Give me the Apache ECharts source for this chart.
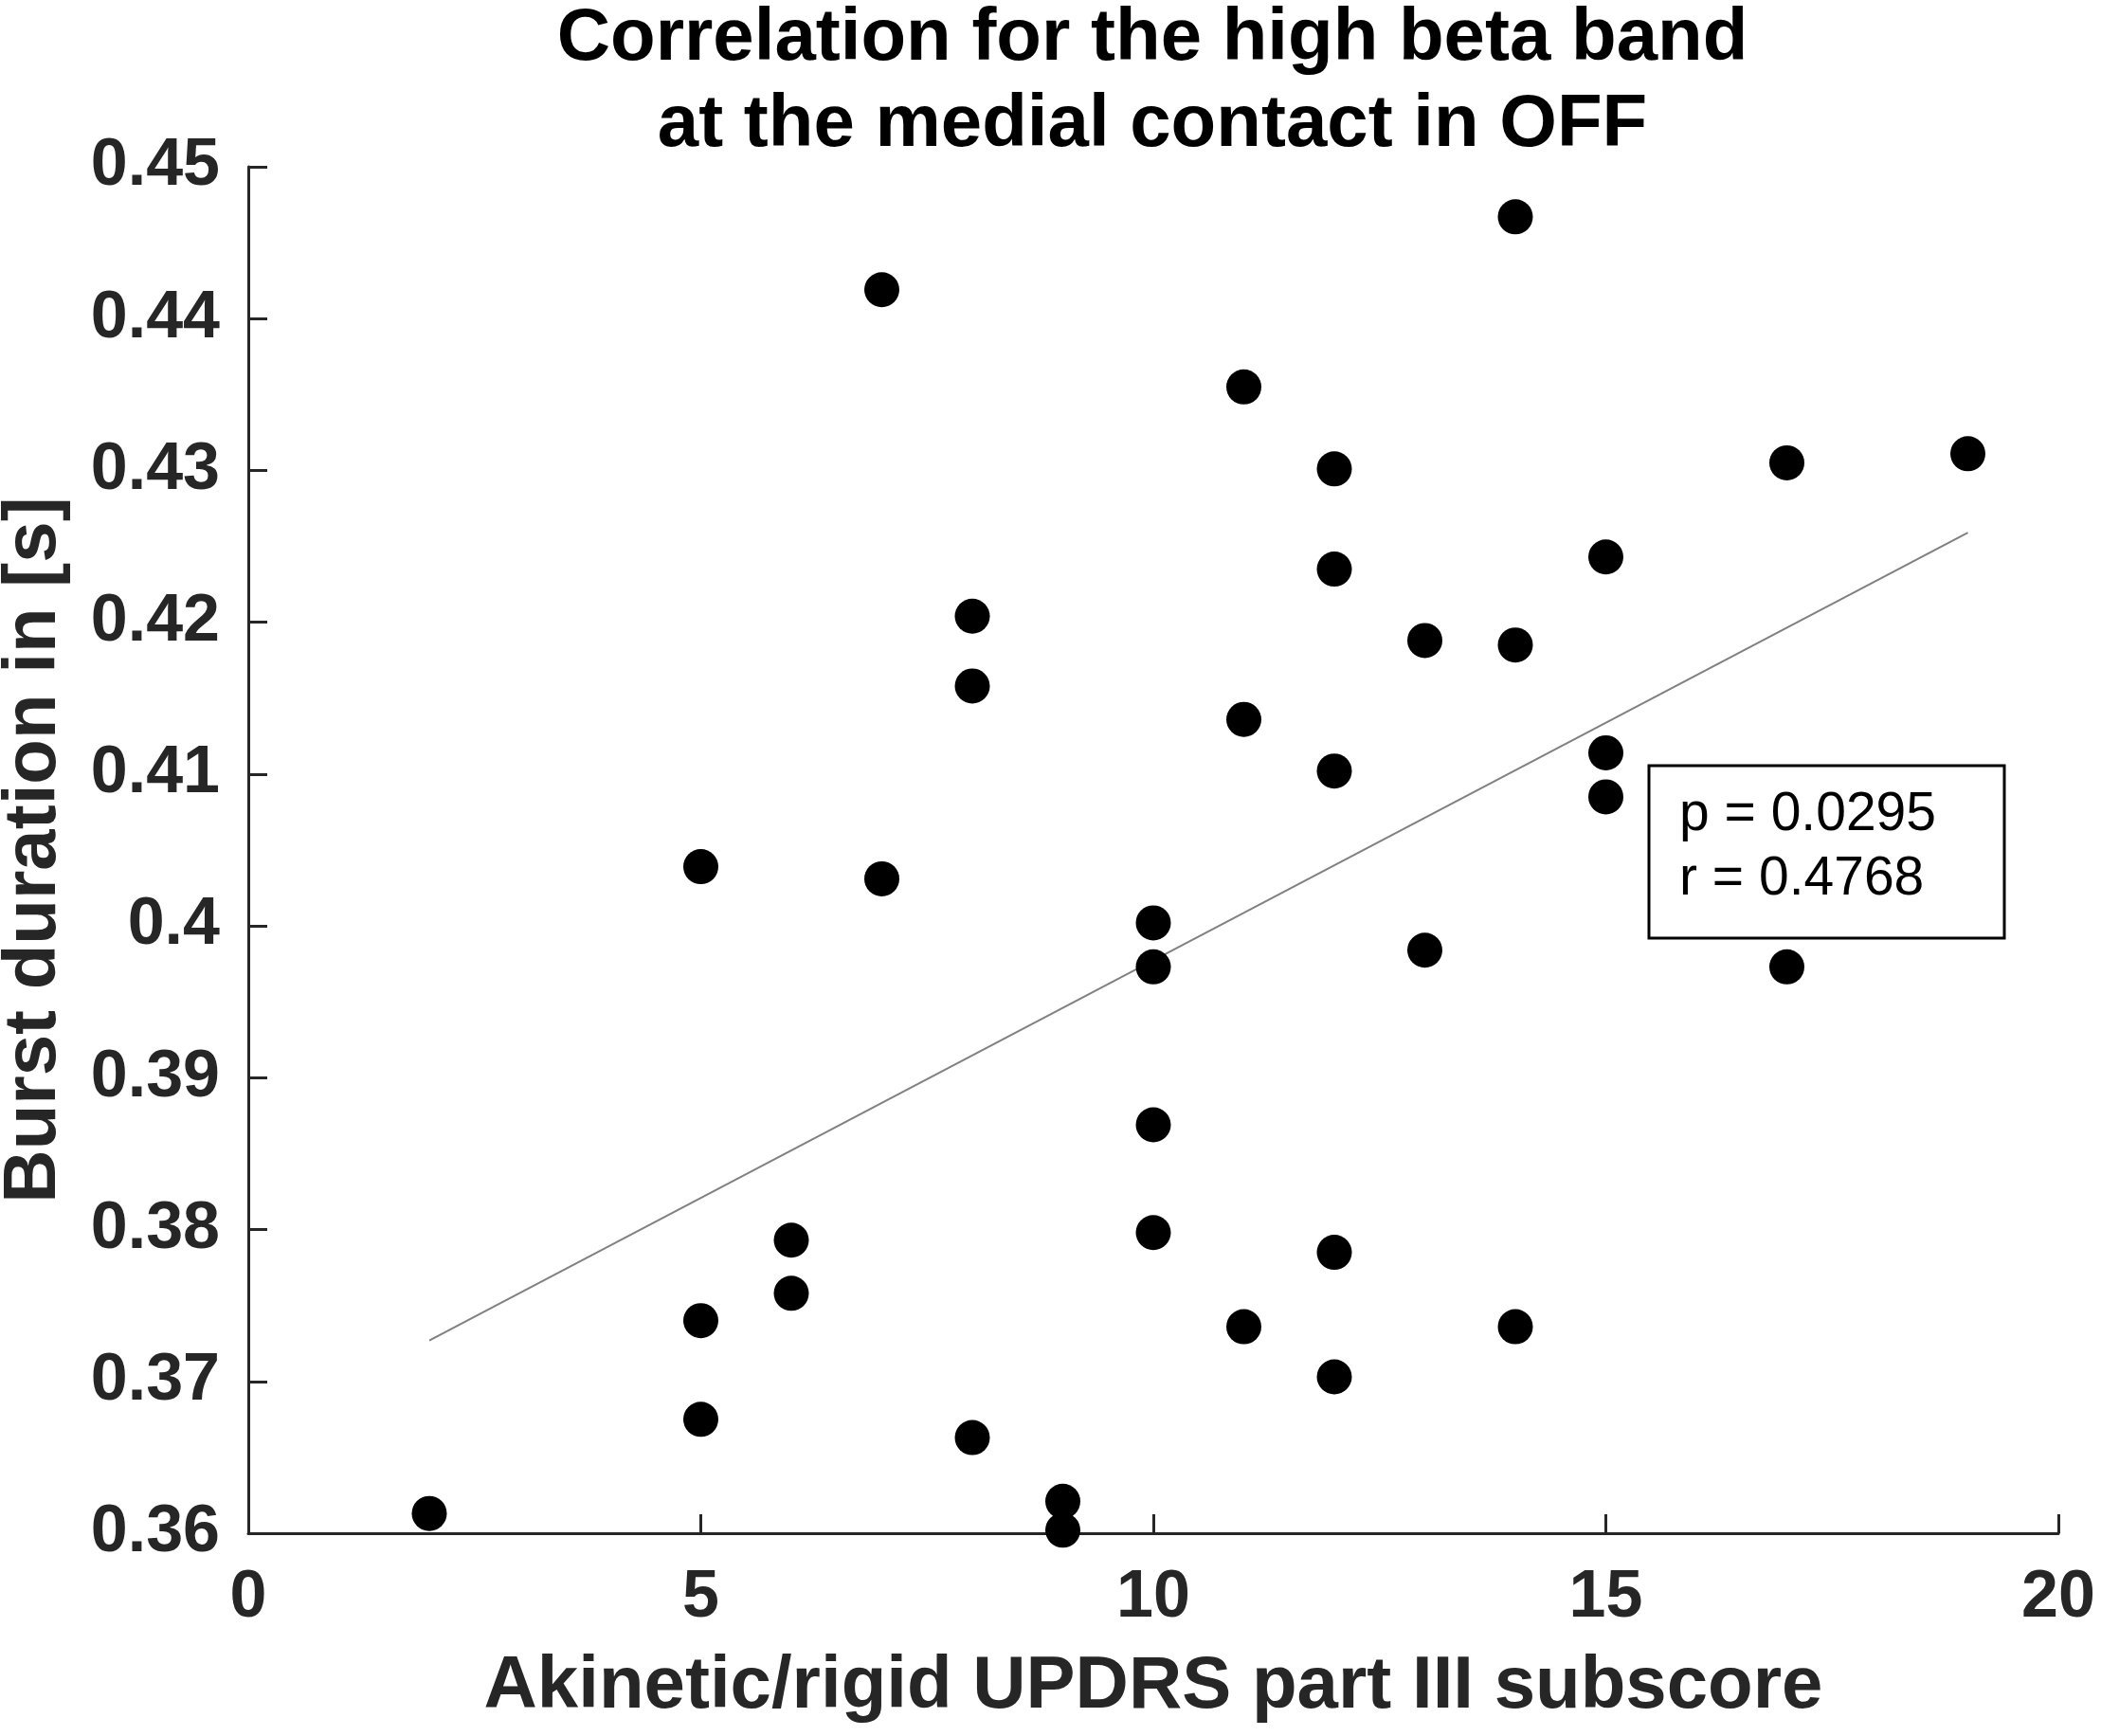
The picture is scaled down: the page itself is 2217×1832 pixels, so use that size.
<!DOCTYPE html>
<html>
<head>
    <meta charset="utf-8">
    <script src="https://cdnjs.cloudflare.com/ajax/libs/echarts/6.0.0/echarts.min.js"></script>
</head>
<body>
    <div id="main"></div>
    <style>
html,body { margin: 0; padding: 0; background: #fff; }
#main { width: 2217px; height: 1832px; }
    </style>
    <script type="text/javascript">
// subscore (x) and burst duration in s (y)
var subscore = [2, 5, 5, 5, 6, 6, 7, 7, 8, 8, 8, 9, 9,
                10, 10, 10, 10, 11, 11, 11, 12, 12, 12, 12, 12,
                13, 13, 14, 14, 14, 15, 15, 15, 17, 17, 19];
var burstDuration = [0.3613, 0.4039, 0.3740, 0.3675, 0.3793, 0.3758, 0.4419, 0.4031, 0.4204, 0.4158, 0.3663, 0.3621, 0.3602,
                     0.4002, 0.3973, 0.3869, 0.3798, 0.4355, 0.4136, 0.3736, 0.4301, 0.4235, 0.4102, 0.3785, 0.3703,
                     0.4188, 0.3984, 0.4467, 0.4185, 0.3736, 0.4243, 0.4114, 0.4085, 0.4305, 0.3973, 0.4311];
// fitted line end points
var fitX = [2, 19];
var fitY = [0.3727, 0.4259];
var yTickLabels = ['0.36', '0.37', '0.38', '0.39', '0.4', '0.41', '0.42', '0.43', '0.44', '0.45'];
var xTickLabels = ['0', '5', '10', '15', '20'];
var statsText = ['p = 0.0295', 'r = 0.4768'];

var font = '"Liberation Sans", Arial, Helvetica, sans-serif';
var axisColor = '#262626';

var points = subscore.map(function (x, i) { return [x, burstDuration[i]]; });
var fitLine = fitX.map(function (x, i) { return [x, fitY[i]]; });

var option = {
    backgroundColor: '#fff',
    animation: false,
    title: {
        text: 'Correlation for the high beta band\nat the medial contact in OFF',
        left: 1216,
        top: -4,
        textAlign: 'center',
        padding: 0,
        textStyle: {
            fontFamily: font,
            fontWeight: 'bold',
            fontSize: 78,
            lineHeight: 91,
            color: '#000'
        }
    },
    grid: { left: 262, right: 45, top: 176, bottom: 214, outerBoundsMode: 'none' },
    xAxis: {
        type: 'value',
        min: 0, max: 20, interval: 5,
        name: 'Akinetic/rigid UPDRS part III subscore',
        nameLocation: 'middle',
        nameGap: 162,
        nameTextStyle: {
            fontFamily: font, fontWeight: 'bold', fontSize: 78,
            color: axisColor, verticalAlign: 'middle', lineHeight: 78
        },
        axisLine: { lineStyle: { color: axisColor, width: 3 } },
        axisTick: { inside: true, length: 20, lineStyle: { color: axisColor, width: 3 } },
        axisLabel: {
            margin: 34,
            fontFamily: font, fontWeight: 'bold', fontSize: 70, lineHeight: 70, color: axisColor,
            formatter: function (v) { return xTickLabels[Math.round(v / 5)]; }
        },
        splitLine: { show: false }
    },
    yAxis: {
        type: 'value',
        min: 0.36, max: 0.45, interval: 0.01,
        name: 'Burst duration in [s]',
        nameLocation: 'middle',
        nameGap: 226,
        nameTextStyle: {
            fontFamily: font, fontWeight: 'bold', fontSize: 78,
            color: axisColor, verticalAlign: 'middle', lineHeight: 78
        },
        axisLine: { show: true, lineStyle: { color: axisColor, width: 3 } },
        axisTick: { show: true, inside: true, length: 20, lineStyle: { color: axisColor, width: 3 } },
        axisLabel: {
            margin: 30,
            fontFamily: font, fontWeight: 'bold', fontSize: 70, color: axisColor,
            formatter: function (v) { return yTickLabels[Math.round((v - 0.36) / 0.01)]; }
        },
        splitLine: { show: false }
    },
    series: [
        {
            type: 'line',
            data: fitLine,
            showSymbol: false,
            symbol: 'none',
            lineStyle: { color: '#808080', width: 2 },
            z: 1
        },
        {
            type: 'scatter',
            data: points,
            symbol: 'circle',
            symbolSize: 37,
            itemStyle: { color: '#000', opacity: 1 },
            z: 2
        }
    ],
    graphic: [
        {
            type: 'rect',
            shape: { x: 1740, y: 808, width: 375, height: 182 },
            style: { fill: '#fff', stroke: '#000', lineWidth: 3 },
            z: 10
        },
        {
            type: 'text',
            x: 1772, y: 860,
            style: { text: statsText[0], font: '57px ' + font, fill: '#000', verticalAlign: 'middle' },
            z: 11
        },
        {
            type: 'text',
            x: 1772, y: 928,
            style: { text: statsText[1], font: '57px ' + font, fill: '#000', verticalAlign: 'middle' },
            z: 11
        }
    ]
};
var chart = echarts.init(document.getElementById('main'));
chart.setOption(option);
    </script>
</body>
</html>
